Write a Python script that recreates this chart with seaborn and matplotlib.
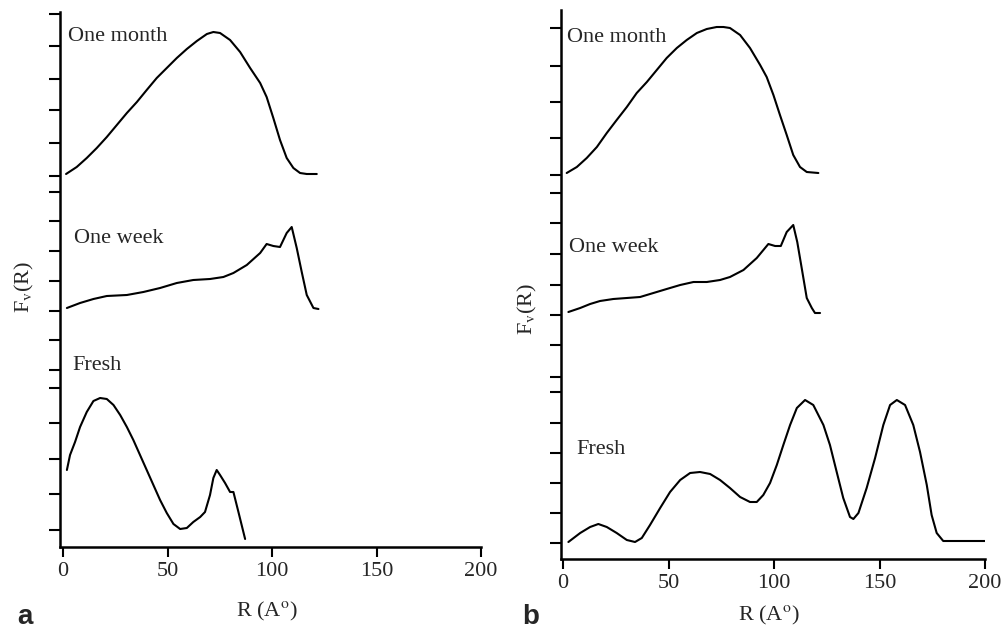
import numpy as np
import pandas as pd
import matplotlib
matplotlib.use("Agg")
import matplotlib.pyplot as plt
import seaborn as sns

# ---------------- data ----------------
# Panel a
a_month_R = [1.4, 6.5, 11.3, 16.1, 20.9, 25.7, 30.5, 35.3, 40, 44.8, 49.6, 54.4, 59.2, 64, 68.8, 71.9,
             75.1, 79.9, 84.7, 89.5, 94.3, 97.4, 100.6, 103.8, 107, 110.2, 113.4, 116.6, 121.4]
a_month_F = [373, 380, 389, 399, 410, 422, 434, 445, 457, 469, 479, 489, 498, 506, 513, 515,
             514, 507, 495, 479, 464, 450, 429, 407, 389, 379, 374, 373, 373]
a_week_R = [1.8, 8.1, 14.5, 20.9, 30.5, 38.4, 46.4, 54.4, 62.3, 70.3, 76.7, 81.5, 87.9, 94.3, 97.4,
            100.6, 103.8, 107, 109.4, 111.8, 114.2, 116.6, 119.8, 122.2]
a_week_F = [239, 244, 248, 251, 252, 255, 259, 264, 267, 268, 270, 274, 282, 294, 303,
            301, 300, 314, 320, 299, 275, 252, 239, 238]
a_fresh_R = [1.8, 3.3, 5.7, 8.1, 11.3, 14.5, 17.7, 20.9, 24.1, 27.3, 30.5, 33.6, 36.8, 40, 43.2, 46.4,
             49.6, 52.8, 56, 59.2, 62.3, 65.6, 67.9, 70.3, 71.9, 73.5, 75.1, 77.5, 79.9, 81.5, 83.9, 87.1]
a_fresh_F = [77, 92, 105, 120, 135, 146, 149, 148, 142, 132, 120, 107, 92, 77, 62, 47,
             34, 23, 18, 19, 25, 30, 35, 52, 69, 77, 72, 64, 55, 55, 35, 8]

# Panel b
b_month_R = [1.7, 6.5, 11.2, 16, 20.7, 25.4, 30.2, 34.9, 39.7, 44.4, 49.1, 53.9, 58.6, 63.4, 68.1, 72.8,
             76, 79.1, 83.9, 88.6, 93.4, 96.5, 99.7, 102.8, 106, 109.1, 112.3, 115.5, 121]
b_month_F = [386, 392, 401, 412, 426, 439, 452, 466, 477, 489, 501, 511, 519, 526, 530, 532,
             532, 531, 524, 511, 494, 482, 464, 444, 424, 404, 392, 387, 386]
b_week_R = [2.5, 8.1, 12.8, 17.5, 23.8, 30.2, 36.5, 42.8, 49.1, 55.5, 61.8, 68.1, 74.4, 79.1, 85.5,
            91.8, 97.3, 100.5, 103.2, 106, 109.1, 111, 113.1, 115.5, 117.9, 119.4, 121.8]
b_week_F = [247, 251, 255, 258, 260, 261, 262, 266, 270, 274, 277, 277, 279, 282, 289,
            301, 315, 313, 313, 327, 334, 317, 291, 261, 251, 246, 246]
b_fresh_R = [2.5, 8.1, 12.8, 16.7, 20.7, 25.4, 30.2, 34.1, 37.3, 41.2, 46, 50.7, 55.5, 60.2, 64.9,
             69.7, 74.4, 79.1, 83.9, 88.6, 91.8, 94.9, 98.1, 101.3, 104.4, 107.6, 110.8, 114.7, 118.6,
             123.4, 126.5, 129.7, 132.8, 136, 137.6, 140, 143.9, 147.9, 151.8, 155, 158.2, 162.1, 166,
             169.2, 172.4, 174.7, 177.1, 180.2, 200]
b_fresh_F = [17, 26, 32, 35, 32, 26, 19, 17, 21, 34, 51, 67, 79, 86, 87,
             85, 79, 71, 62, 57, 57, 64, 76, 94, 114, 134, 151, 159, 154,
             134, 114, 87, 61, 42, 40, 46, 71, 101, 134, 154, 159, 154, 134,
             107, 74, 44, 26, 18, 18]

# y tick positions (unlabelled) and x ticks
a_yticks = [17, 53, 88, 124, 159, 177, 207, 236, 266, 296, 326, 355, 371, 404, 437, 468, 501, 533]
b_yticks = [16, 46, 76, 106, 136, 167, 182, 214, 244, 274, 305, 336, 366, 384, 421, 457, 493, 531]
x_ticks = [0, 50, 100, 150, 200]
curve_names = ["One month", "One week", "Fresh"]

# ---------------- style ----------------
sns.set_style("ticks")
plt.rcParams["font.family"] = ["Liberation Serif", "DejaVu Serif"]
plt.rcParams["mathtext.fontset"] = "stix"

fig = plt.figure(figsize=(10.05, 6.32), dpi=100)
ax_a = fig.add_axes([60 / 1005, (632 - 547) / 632, 421 / 1005, 535 / 632])
ax_b = fig.add_axes([561 / 1005, (632 - 559) / 632, 424 / 1005, 549 / 632])

panels = [
    (ax_a, [(a_month_R, a_month_F), (a_week_R, a_week_F), (a_fresh_R, a_fresh_F)], a_yticks, 535, -1.5,
     [(2.5, 511), (5, 309), (4.3, 182)], (-0.057, 0.487), (0.49, -0.099)),
    (ax_b, [(b_month_R, b_month_F), (b_week_R, b_week_F), (b_fresh_R, b_fresh_F)], b_yticks, 549, -1.0,
     [(2, 522), (3, 312), (6.2, 110)], (-0.052, 0.455), (0.49, -0.082)),
]

for ax, curves, yt, ytop, xl, labpos, ylab_xy, xlab_xy in panels:
    for (R, F), name, (tx, ty) in zip(curves, curve_names, labpos):
        df = pd.DataFrame({"R": R, "F": F})
        sns.lineplot(data=df, x="R", y="F", ax=ax, color="black", linewidth=1.5, sort=False,
                     estimator=None, solid_joinstyle="round", solid_capstyle="round")
        ax.text(tx, ty, name, fontsize=16, va="center", ha="left")
    ax.set_xlim(xl, 200)
    ax.set_ylim(0, ytop)
    ax.set_xticks(x_ticks)
    ax.set_xticklabels([str(v) for v in x_ticks], fontsize=16)
    ax.set_yticks(yt)
    ax.set_yticklabels([])
    ax.tick_params(axis="y", direction="out", length=8, width=1.5, color="black")
    ax.tick_params(axis="x", direction="out", length=7, width=1.5, color="black", pad=4)
    for s in ["top", "right"]:
        ax.spines[s].set_visible(False)
    for s in ["left", "bottom"]:
        ax.spines[s].set_linewidth(1.8)
        ax.spines[s].set_color("black")
    ax.set_ylabel(r"F$_\mathrm{v}$(R)", fontsize=16)
    ax.yaxis.set_label_coords(*ylab_xy)
    ax.set_xlabel(r"R (A$^\mathrm{o}$)", fontsize=16)
    ax.xaxis.set_label_coords(*xlab_xy)

fig.text(25 / 1005, 1 - 617 / 632, "a", fontsize=20, fontweight="bold", family="Liberation Sans",
         ha="center", va="center")
fig.text(531 / 1005, 1 - 617 / 632, "b", fontsize=20, fontweight="bold", family="Liberation Sans",
         ha="center", va="center")

fig.savefig("out.png", dpi=100)
